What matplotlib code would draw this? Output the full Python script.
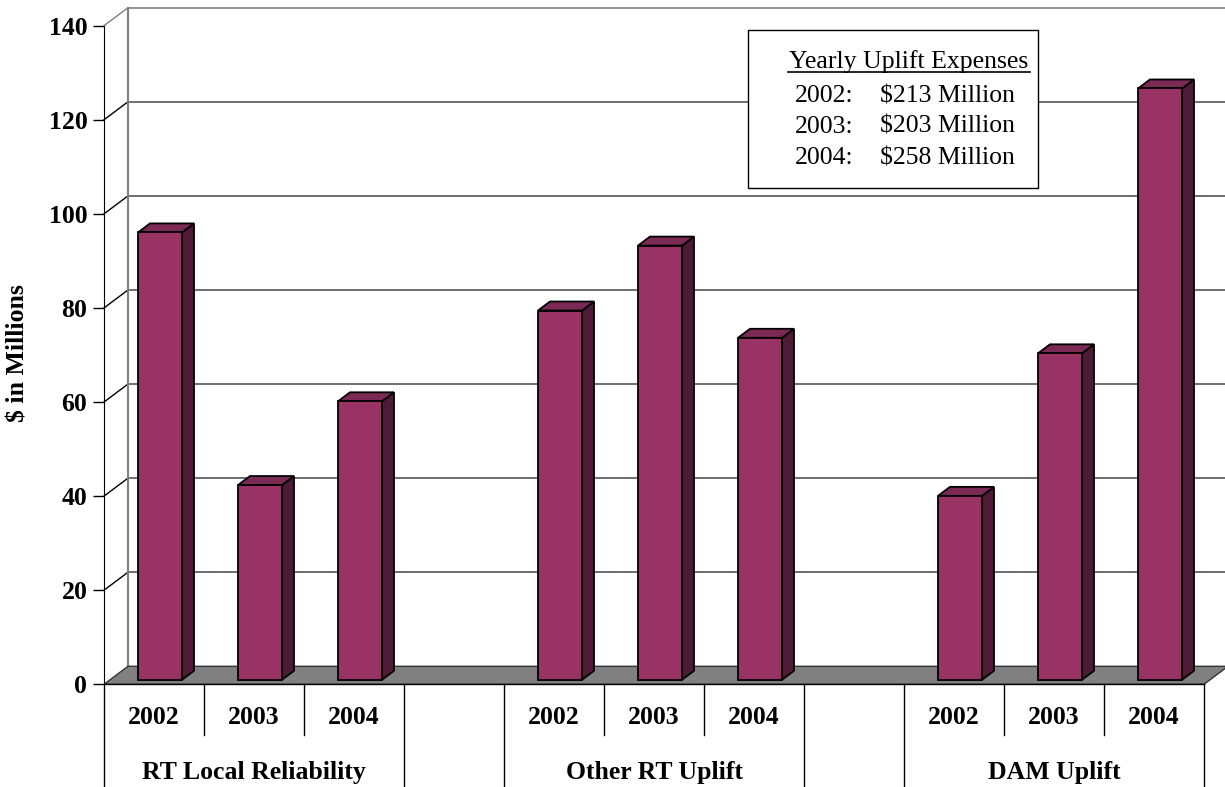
import matplotlib.pyplot as plt
from matplotlib.patches import Polygon, Rectangle

plt.rcParams['font.family'] = ['Liberation Serif', 'DejaVu Serif']

groups = ["RT Local Reliability", "Other RT Uplift", "DAM Uplift"]
years = ["2002", "2003", "2004"]
rt_local = [95.1, 41.4, 59.2]
other_rt = [78.5, 92.3, 72.7]
dam_uplift = [39.1, 69.4, 125.7]
yearly_totals = ["$213 Million", "$203 Million", "$258 Million"]

front_col = "#993366"
top_col = "#7a2a55"
side_col = "#4e1a35"
wall_line = "#808080"

W, H = 1225, 787
fig = plt.figure(figsize=(W / 100, H / 100), dpi=100)
ax = fig.add_axes([104 / W, (H - 684.3) / H, 1100 / W, 658.6 / H])
nslots = 11
ax.set_xlim(-0.5, nslots - 0.5)
ax.set_ylim(0, 140)

# pixel -> data conversions for the oblique depth
px_x = 1100 / nslots
px_y = 658.6 / 140
def dxy(px, py):
    return px / px_x, py / px_y

DX, DY = dxy(24, 18)        # full floor depth
FX, FY = dxy(6, 4.5)        # bar front offset
BX, BY = dxy(12, 9)         # bar depth
bw = 44 / px_x

x0, x1 = -0.5, nslots - 0.5

# back wall gridlines and left wall
for v in range(20, 141, 20):
    c = wall_line if v == 140 else "#555555"
    ax.plot([x0 + DX, x1 + DX], [v + DY, v + DY], color=c, lw=1.2, clip_on=False, zorder=1)
    ax.plot([x0, x0 + DX], [v, v + DY], color="black" if v < 140 else wall_line, lw=1, clip_on=False, zorder=1)
ax.plot([x0 + DX, x0 + DX], [DY, 140 + DY], color=wall_line, lw=1.5, clip_on=False, zorder=1)

# floor
ax.add_patch(Polygon([(x0, 0), (x1, 0), (x1 + DX, DY), (x0 + DX, DY)],
                     closed=True, facecolor="#808080", edgecolor="#333333", lw=1,
                     clip_on=False, zorder=2))

# bars
slots = []
series = [rt_local, other_rt, dam_uplift]
for g, vals in enumerate(series):
    for i, v in enumerate(vals):
        slots.append((g * 4 + i, v))

for s, v in sorted(slots, key=lambda t: -t[0]):
    l = s - bw / 2 + FX
    r = s + bw / 2 + FX
    b = FY
    t = v + FY
    ax.add_patch(Polygon([(r, b), (r + BX, b + BY), (r + BX, t + BY), (r, t)],
                         facecolor=side_col, edgecolor="black", lw=1.3, clip_on=False, zorder=3))
    ax.add_patch(Polygon([(l, t), (r, t), (r + BX, t + BY), (l + BX, t + BY)],
                         facecolor=top_col, edgecolor="black", lw=1.3, clip_on=False, zorder=3))
    ax.add_patch(Rectangle((l, b), bw, v, facecolor=front_col, edgecolor="black",
                           lw=1.3, clip_on=False, zorder=4))

# axes styling
for sp in ["top", "right", "bottom"]:
    ax.spines[sp].set_visible(False)
ax.spines["left"].set_color("black")
ax.spines["left"].set_zorder(5)
ax.set_yticks(range(0, 141, 20))
ax.tick_params(axis="y", length=8, width=1, pad=4, labelsize=18.5)
for lab in ax.get_yticklabels():
    lab.set_fontweight("bold")
ax.set_xticks([])

# category axis (two levels)
xt = ax.get_xaxis_transform()
ax.plot([x0, x1], [0, 0], color="black", lw=1, transform=ax.transData, clip_on=False, zorder=5)
for g, name in enumerate(groups):
    start = g * 4
    for k, yr in enumerate(years):
        ax.annotate(yr, xy=(start + k, 0), xycoords=xt, xytext=(0, -33),
                    textcoords="offset pixels", ha="center", va="center",
                    fontsize=18.5, fontweight="bold")
    for k in (1, 2):
        ax.plot([start + k - 0.5] * 2, [0, -51 / 658.6], transform=xt,
                color="black", lw=1, clip_on=False)
    ax.annotate(name, xy=(start + 1, 0), xycoords=xt, xytext=(0, -88),
                textcoords="offset pixels", ha="center", va="center",
                fontsize=18.5, fontweight="bold")
for edge in (-0.5, 2.5, 3.5, 6.5, 7.5, 10.5):
    ax.plot([edge, edge], [0, -0.2], transform=xt, color="black", lw=1, clip_on=False)

fig.text(18 / W, 1 - 353 / H, "$ in Millions", rotation=90, ha="center", va="center",
         fontsize=18.5, fontweight="bold")

# totals box
bx0, by0, bx1, by1 = 748, 30, 1038, 188
fig.patches.append(Rectangle((bx0 / W, 1 - by1 / H), (bx1 - bx0) / W, (by1 - by0) / H,
                             transform=fig.transFigure, facecolor="white",
                             edgecolor="black", lw=1, zorder=6))
fig.text(909 / W, 1 - 62 / H, "Yearly Uplift Expenses", ha="center", va="center",
         fontsize=18.5, zorder=7)
fig.add_artist(plt.Line2D([788 / W, 1030 / W], [1 - 72 / H, 1 - 72 / H],
                          transform=fig.transFigure, color="black", lw=1.2, zorder=7))
for i, (yr, tot) in enumerate(zip(years, yearly_totals)):
    yy = 1 - (96 + 31 * i) / H
    fig.text(795 / W, yy, yr + ":", ha="left", va="center", fontsize=18.5, zorder=7)
    fig.text(880 / W, yy, tot, ha="left", va="center", fontsize=18.5, zorder=7)

fig.savefig("out.png", dpi=100)
